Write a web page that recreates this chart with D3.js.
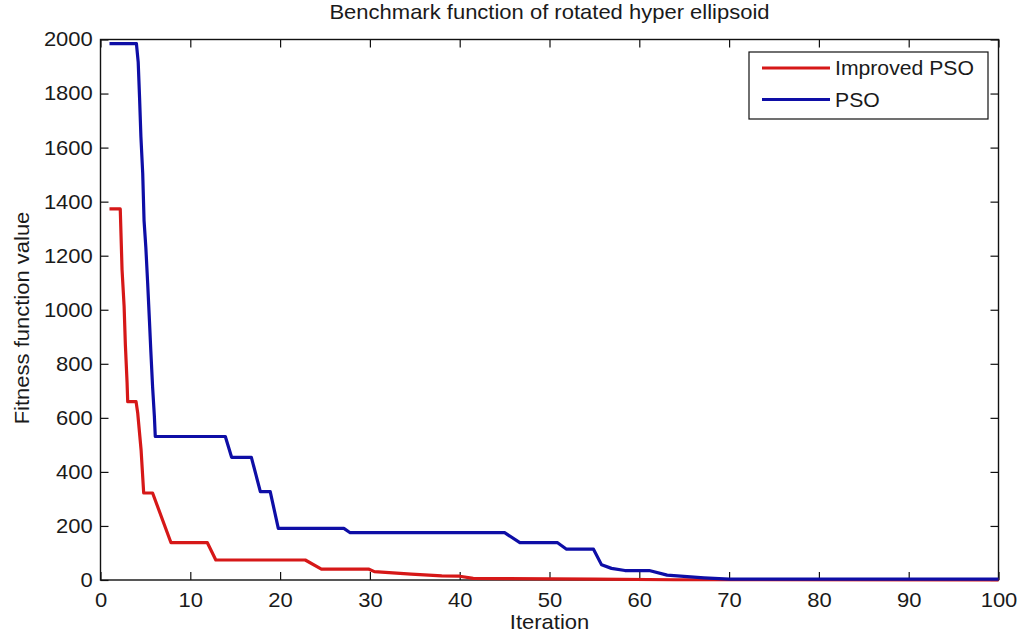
<!DOCTYPE html>
<html>
<head>
<meta charset="utf-8">
<script src="https://cdn.jsdelivr.net/npm/d3@7"></script>
<style>
  body { margin: 0; background: #fff; }
  svg text { font-family: 'Liberation Sans', Arial, sans-serif; fill: #1a1a1a; }
</style>
</head>
<body>
<svg id="chart" width="1021" height="640"></svg>
<script>
// series data (iteration, fitness value)
const seriesNames = ['Improved PSO', 'PSO'];
const seriesColors = ['#d61818', '#0e0ea6'];

const ipsoIter = [1, 2.2, 2.4, 2.63, 2.77, 2.96, 3.03, 3.96, 4.14, 4.52, 4.81, 5.8, 7.85, 11.9, 12.84,
  22.8, 24.6, 29.9, 30.5, 34.6, 38, 40, 41.5, 45, 55, 64, 100];
const ipsoVal = [1373, 1373, 1148, 1012, 870, 730, 660, 660, 619, 481, 322, 322, 138, 138, 74,
  74, 40, 40, 31, 22, 15, 14, 6, 5, 3, 1, 0.5];

const psoIter = [1, 4.0, 4.2, 4.35, 4.5, 4.7, 4.85, 5.05, 5.25, 5.45, 5.6, 5.8, 6.0, 6.1,
  13.9, 14.6, 16.8, 17.8, 18.9, 19.8, 27.1, 27.8, 45, 46.7, 50.9, 51.9, 54.9, 55.8, 56.9, 58.4,
  61.1, 63.1, 67.2, 70, 100];
const psoVal = [1985, 1985, 1915, 1785, 1640, 1505, 1330, 1230, 1100, 960, 850, 715, 605, 531,
  531, 454, 454, 327, 327, 191, 191, 175, 175, 138, 138, 114, 114, 56, 43, 35,
  35, 18, 8, 3, 3];

const xTicks = [0, 10, 20, 30, 40, 50, 60, 70, 80, 90, 100];
const yTicks = [0, 200, 400, 600, 800, 1000, 1200, 1400, 1600, 1800, 2000];

const svg = d3.select('#chart');
const plot = {left: 100.5, right: 998.5, top: 39.5, bottom: 580};
const stretch = 'scale(1.1,1)';   // the reference font is a bit wider than Liberation Sans

const x = d3.scaleLinear().domain([0, 100]).range([plot.left, plot.right]);
const y = d3.scaleLinear().domain([0, 2000]).range([plot.bottom, plot.top]);

// axes box with inward ticks on all four sides
const tickLen = 8;
const axisStyle = g => {
  g.select('.domain').remove();
  g.selectAll('.tick line').attr('stroke', '#111').attr('stroke-width', 1.2);
  g.selectAll('.tick text').attr('font-size', 20).attr('fill', '#1a1a1a').attr('transform', stretch);
};

svg.append('g')
    .attr('transform', 'translate(0,' + plot.bottom + ')')
    .call(d3.axisBottom(x).tickValues(xTicks).tickSizeInner(-tickLen).tickPadding(13).tickFormat(d3.format('d')))
    .call(axisStyle);
svg.append('g')
    .attr('transform', 'translate(0,' + plot.top + ')')
    .call(d3.axisTop(x).tickValues(xTicks).tickSizeInner(-tickLen).tickFormat(''))
    .call(axisStyle);
svg.append('g')
    .attr('transform', 'translate(' + plot.left + ',0)')
    .call(d3.axisLeft(y).tickValues(yTicks).tickSizeInner(-tickLen).tickPadding(7).tickFormat(d3.format('d')))
    .call(axisStyle);
svg.append('g')
    .attr('transform', 'translate(' + plot.right + ',0)')
    .call(d3.axisRight(y).tickValues(yTicks).tickSizeInner(-tickLen).tickFormat(''))
    .call(axisStyle);

svg.append('rect')
    .attr('x', plot.left).attr('y', plot.top)
    .attr('width', plot.right - plot.left).attr('height', plot.bottom - plot.top)
    .attr('fill', 'none').attr('stroke', '#111').attr('stroke-width', 1.4);

// curves
const line = d3.line()
    .x(d => x(d[0]))
    .y(d => y(d[1]));

const series = [
  d3.zip(ipsoIter, ipsoVal),
  d3.zip(psoIter, psoVal)
];

series.forEach((data, i) => {
  svg.append('path')
      .datum(data)
      .attr('fill', 'none')
      .attr('stroke', seriesColors[i])
      .attr('stroke-width', 3.2)
      .attr('stroke-linejoin', 'round')
      .attr('d', line);
});

// labels
const cx = (plot.left + plot.right) / 2;
svg.append('text')
    .attr('transform', 'translate(' + cx + ',19) ' + stretch)
    .attr('text-anchor', 'middle').attr('font-size', 20)
    .text('Benchmark function of rotated hyper ellipsoid');
svg.append('text')
    .attr('transform', 'translate(' + cx + ',629) ' + stretch)
    .attr('text-anchor', 'middle').attr('font-size', 20)
    .text('Iteration');
svg.append('text')
    .attr('transform', 'translate(29,318) rotate(-90) ' + stretch)
    .attr('text-anchor', 'middle').attr('font-size', 20)
    .text('Fitness function value');

// legend
const legend = svg.append('g').attr('transform', 'translate(749,52)');
legend.append('rect')
    .attr('width', 239).attr('height', 67)
    .attr('fill', '#fff').attr('stroke', '#111').attr('stroke-width', 1.2);
seriesNames.forEach((name, i) => {
  const ly = 16 + i * 31.5;
  legend.append('line')
      .attr('x1', 13).attr('x2', 81).attr('y1', ly).attr('y2', ly)
      .attr('stroke', seriesColors[i]).attr('stroke-width', 3.2);
  legend.append('text')
      .attr('transform', 'translate(86,' + (ly + 7) + ') scale(1.06,1)')
      .attr('font-size', 20)
      .text(name);
});
</script>
</body>
</html>
